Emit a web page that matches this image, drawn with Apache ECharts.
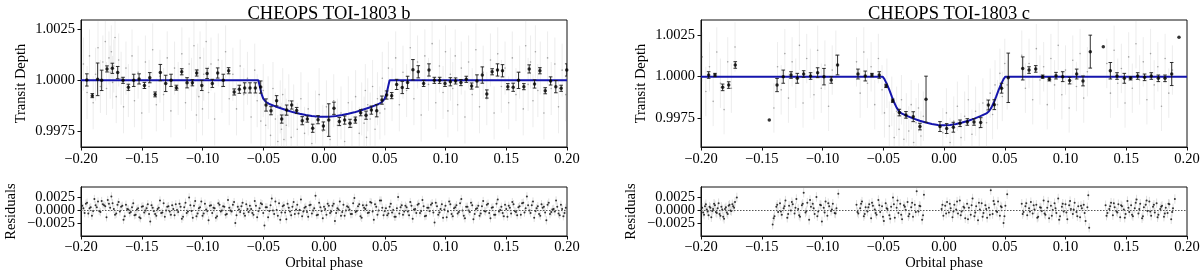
<!DOCTYPE html>
<html><head><meta charset="utf-8">
<script src="https://cdn.jsdelivr.net/npm/echarts@6/dist/echarts.min.js"></script>
<style>html,body{margin:0;padding:0;background:#fff}#c{width:1200px;height:274px}</style>
</head><body><div id="c"></div>
<script>
// ---------- data ----------
const titles = ['CHEOPS TOI-1803 b', 'CHEOPS TOI-1803 c'];
const phaseTicks = [-0.20, -0.15, -0.10, -0.05, 0.00, 0.05, 0.10, 0.15, 0.20];
const depthTicks = [0.9975, 1.0000, 1.0025];
const residTicksOuter = [-0.0025, 0.0025];
const residTicksZero = [0.0000];

// transit model
const modelB = [[-0.200,1.0],[-0.0540,1.0],[-0.0530,0.99975],[-0.0515,0.99935],[-0.0500,0.99910],[-0.0480,0.99895],[-0.045,0.99884],[-0.040,0.99872],[-0.035,0.99862],[-0.030,0.99852],[-0.025,0.99843],[-0.020,0.99836],[-0.015,0.99830],[-0.010,0.99825],[-0.005,0.99822],[0.000,0.99821],[0.005,0.99822],[0.010,0.99825],[0.015,0.99830],[0.020,0.99836],[0.025,0.99843],[0.030,0.99852],[0.035,0.99862],[0.040,0.99872],[0.045,0.99884],[0.0480,0.99895],[0.0500,0.99910],[0.0515,0.99935],[0.0530,0.99975],[0.0540,1.0],[0.200,1.0]];
const modelC = [[-0.200,1.0],[-0.0505,1.0],[-0.049,0.99985],[-0.047,0.99955],[-0.045,0.99920],[-0.043,0.99880],[-0.041,0.99843],[-0.039,0.99812],[-0.037,0.99790],[-0.035,0.99777],[-0.030,0.99760],[-0.025,0.99745],[-0.020,0.99732],[-0.015,0.99722],[-0.010,0.99713],[-0.005,0.99707],[0.000,0.99705],[0.005,0.99707],[0.010,0.99713],[0.015,0.99722],[0.020,0.99732],[0.025,0.99745],[0.030,0.99760],[0.035,0.99777],[0.037,0.99790],[0.039,0.99812],[0.041,0.99843],[0.043,0.99880],[0.045,0.99920],[0.047,0.99955],[0.049,0.99985],[0.0505,1.0],[0.200,1.0]];

// binned points: [phase, flux, error]
const binnedB = [[-0.1952,1.00002,0.0003],[-0.1907,0.99925,0.0001],[-0.1863,1.00005,0.0008],[-0.1830,1.0000,0.0005],[-0.1786,1.00056,0.00015],[-0.1742,1.00059,0.00025],[-0.1698,1.00038,0.0003],[-0.1654,1.0000,0.00015],[-0.1610,0.99966,0.00015],[-0.1566,1.0000,0.0003],[-0.1522,1.00007,0.00025],[-0.1478,0.99975,0.00015],[-0.1434,1.00013,0.00025],[-0.1390,0.99931,0.00012],[-0.1347,1.00038,0.0004],[-0.1303,0.99985,0.0004],[-0.1259,1.0000,0.0003],[-0.1215,0.99964,0.00012],[-0.1171,1.00042,0.00015],[-0.1127,0.99988,0.00025],[-0.1083,0.99988,0.00015],[-0.1048,1.00036,0.00015],[-0.1006,0.99975,0.00025],[-0.0962,1.00034,0.00025],[-0.0919,0.99985,0.0002],[-0.0875,1.00036,0.00025],[-0.0829,1.0000,0.0003],[-0.0785,1.00047,0.00015],[-0.0739,0.99943,0.00015],[-0.0697,0.99956,0.0002],[-0.0653,0.99963,0.00025],[-0.0609,0.99963,0.00025],[-0.0565,0.99963,0.00025],[-0.0521,0.99967,0.0003],[-0.0477,0.99879,0.0003],[-0.0436,0.99851,0.0002],[-0.0390,0.99900,0.00025],[-0.0348,0.99810,0.0002],[-0.0307,0.99854,0.00025],[-0.0266,0.99879,0.0002],[-0.0225,0.99852,0.00015],[-0.0179,0.99802,0.0002],[-0.0137,0.99810,0.00015],[-0.0093,0.99765,0.0002],[-0.0049,0.99807,0.0002],[-0.0005,0.99776,0.0002],[0.0039,0.99805,0.0008],[0.0082,0.99863,0.0003],[0.0126,0.99798,0.0002],[0.0170,0.99805,0.0002],[0.0214,0.99789,0.0002],[0.0258,0.99805,0.00015],[0.0302,0.99841,0.00015],[0.0346,0.99829,0.0002],[0.0390,0.99854,0.0002],[0.0434,0.99851,0.0003],[0.0477,0.99903,0.0002],[0.0516,0.99928,0.0002],[0.0557,0.99925,0.00015],[0.0598,0.99980,0.00025],[0.0644,0.99965,0.0003],[0.0688,0.99990,0.0003],[0.0732,1.00052,0.0005],[0.0776,1.00042,0.0003],[0.0820,0.99985,0.00015],[0.0864,1.00051,0.0003],[0.0908,1.0000,0.00015],[0.0952,1.0000,0.00015],[0.0996,0.99985,0.00015],[0.1040,0.99993,0.0002],[0.1083,0.99997,0.00015],[0.1127,0.99989,0.00015],[0.1171,1.00005,0.00015],[0.1215,0.99972,0.00015],[0.1259,0.99997,0.0003],[0.1303,1.00026,0.0004],[0.1340,0.99933,0.0002],[0.1384,1.00042,0.00015],[0.1428,1.00051,0.0003],[0.1469,1.00047,0.0003],[0.1513,0.99969,0.00015],[0.1557,0.99966,0.0002],[0.1601,1.0000,0.0004],[0.1645,0.99969,0.00015],[0.1689,1.00056,0.0002],[0.1733,0.99982,0.0002],[0.1777,1.00047,0.00015],[0.1821,0.99949,0.00015],[0.1865,0.99997,0.0002],[0.1908,0.99969,0.0003],[0.1952,0.99961,0.00015],[0.1998,1.00051,0.0003]];
const binnedC = [[-0.1937,1.0001,0.0002],[-0.1885,1.0001,0.0001],[-0.1822,0.99935,0.0002],[-0.1772,0.99949,0.0002],[-0.1718,1.00071,0.0002],[-0.1438,0.99737,0.0],[-0.1374,0.99949,0.0004],[-0.1323,1.0,0.0004],[-0.1259,1.0001,0.0002],[-0.1207,0.9999,0.0003],[-0.1155,1.00016,0.0002],[-0.1098,1.00004,0.0002],[-0.1040,1.00024,0.0003],[-0.0988,1.0,0.0005],[-0.0928,0.9998,0.0002],[-0.0876,1.00071,0.0006],[-0.0708,1.00016,0.0003],[-0.0648,1.00004,0.0003],[-0.0593,1.0001,0.0001],[-0.0533,1.0001,0.0002],[-0.0477,0.99944,0.0001],[-0.0422,0.99854,0.0001],[-0.0368,0.99782,0.0002],[-0.0313,0.99768,0.0002],[-0.0253,0.99757,0.0003],[-0.0198,0.99697,0.0002],[-0.0148,0.99863,0.0014],[-0.0033,0.99697,0.0003],[0.0022,0.99685,0.0003],[0.0077,0.99693,0.0003],[0.0132,0.99717,0.0002],[0.0192,0.99725,0.0002],[0.0247,0.99725,0.0002],[0.0302,0.99721,0.0003],[0.0365,0.99828,0.0003],[0.0414,0.99830,0.0003],[0.0474,0.99930,0.0003],[0.0529,0.99993,0.0015],[0.0648,1.0005,0.0007],[0.0700,1.0004,0.0002],[0.0755,1.00047,0.0002],[0.0812,1.0,0.0001],[0.0867,0.99984,0.0001],[0.0922,1.00006,0.0002],[0.0977,1.0,0.0003],[0.1034,0.99976,0.0002],[0.1092,1.00016,0.0003],[0.1144,0.99974,0.0003],[0.1204,1.00152,0.001],[0.1311,1.00182,0.0],[0.1369,1.00036,0.0005],[0.1424,1.00004,0.0002],[0.1484,0.9999,0.0003],[0.1536,0.9999,0.0001],[0.1594,1.00004,0.0002],[0.1651,0.99996,0.0002],[0.1706,1.00004,0.0002],[0.1764,0.9999,0.0002],[0.1819,0.9999,0.0002],[0.1874,1.00016,0.0007],[0.1934,1.00239,0.0]];

// unbinned CHEOPS points [phase, flux] and their typical error
const rawErrB = 0.0013;
const rawB = [[-0.198,1.0008],[-0.195,0.9994],[-0.193,1.0012],[-0.190,0.9989],[-0.188,1.0003],[-0.186,1.0016],[-0.184,0.9997],[-0.182,1.0009],[-0.180,1.0019],[-0.179,0.9996],[-0.177,1.0011],[-0.176,1.0004],[-0.175,1.0014],[-0.174,0.9999],[-0.173,1.0007],[-0.172,1.0021],[-0.171,0.9992],[-0.169,1.0010],[-0.167,1.0001],[-0.165,0.9987],[-0.163,1.0006],[-0.161,0.9995],[-0.158,1.0012],[-0.156,0.9990],[-0.153,1.0004],[-0.150,0.9984],[-0.147,1.0009],[-0.144,0.9997],[-0.141,1.0015],[-0.138,0.9988],[-0.135,1.0002],[-0.132,0.9993],[-0.129,1.0011],[-0.126,0.9985],[-0.123,1.0006],[-0.120,0.9996],[-0.117,1.0013],[-0.114,0.9989],[-0.111,1.0008],[-0.109,0.9998],[-0.107,1.0017],[-0.105,0.9983],[-0.104,1.0005],[-0.103,0.9992],[-0.102,1.0011],[-0.100,0.9986],[-0.099,1.0003],[-0.097,1.0019],[-0.095,0.9994],[-0.093,1.0008],[-0.090,0.9981],[-0.087,1.0010],[-0.084,0.9997],[-0.081,1.0014],[-0.078,0.9991],[-0.075,1.0003],[-0.072,0.9986],[-0.069,1.0007],[-0.066,0.9993],[-0.063,1.0001],[-0.060,0.9982],[-0.057,1.0005],[-0.055,0.9990],[-0.052,0.9980],[-0.050,0.9995],[-0.048,0.9978],[-0.046,0.9989],[-0.044,0.9973],[-0.042,0.9996],[-0.040,0.9981],[-0.038,0.9970],[-0.036,0.9987],[-0.035,0.9976],[-0.034,0.9993],[-0.033,0.9971],[-0.032,0.9983],[-0.031,0.9978],[-0.029,0.9990],[-0.027,0.9972],[-0.025,0.9985],[-0.022,0.9976],[-0.019,0.9991],[-0.016,0.9974],[-0.013,0.9986],[-0.010,0.9969],[-0.007,0.9982],[-0.004,0.9993],[-0.001,0.9975],[0.002,0.9987],[0.005,0.9971],[0.008,0.9990],[0.011,0.9978],[0.014,0.9984],[0.017,0.9970],[0.020,0.9989],[0.023,0.9977],[0.026,0.9992],[0.029,0.9974],[0.031,0.9986],[0.033,0.9979],[0.034,0.9995],[0.035,0.9972],[0.036,0.9988],[0.038,0.9981],[0.040,0.9997],[0.042,0.9976],[0.044,0.9991],[0.046,0.9984],[0.048,1.0001],[0.050,0.9986],[0.053,1.0006],[0.056,0.9993],[0.059,1.0011],[0.062,0.9988],[0.065,1.0004],[0.068,0.9995],[0.071,1.0016],[0.074,0.9991],[0.077,1.0009],[0.080,0.9983],[0.083,1.0012],[0.086,0.9998],[0.089,1.0018],[0.092,0.9989],[0.095,1.0007],[0.098,0.9994],[0.100,1.0014],[0.102,0.9985],[0.104,1.0003],[0.106,0.9996],[0.108,1.0012],[0.110,0.9988],[0.113,1.0006],[0.116,0.9982],[0.119,1.0009],[0.122,0.9993],[0.125,1.0015],[0.128,0.9987],[0.131,1.0004],[0.134,0.9991],[0.137,1.0010],[0.140,0.9984],[0.143,1.0013],[0.146,0.9997],[0.149,1.0006],[0.152,0.9989],[0.155,1.0011],[0.158,0.9993],[0.161,1.0004],[0.164,0.9986],[0.166,1.0017],[0.168,0.9998],[0.170,1.0009],[0.172,0.9990],[0.174,1.0014],[0.176,0.9995],[0.178,1.0006],[0.181,0.9984],[0.184,1.0011],[0.187,0.9996],[0.190,1.0008],[0.193,0.9987],[0.196,1.0005],[0.199,0.9993]];
const rawErrC = 0.0015;
const rawC = [[-0.199,1.0012],[-0.196,0.9991],[-0.193,1.0006],[-0.190,0.9985],[-0.187,1.0015],[-0.184,0.9996],[-0.181,0.9980],[-0.178,1.0009],[-0.175,0.9993],[-0.172,1.0018],[-0.140,0.9981],[-0.137,1.0006],[-0.134,0.9992],[-0.131,1.0014],[-0.128,0.9987],[-0.125,1.0009],[-0.122,0.9996],[-0.119,1.0019],[-0.116,0.9984],[-0.113,1.0011],[-0.110,1.0002],[-0.107,0.9989],[-0.104,1.0016],[-0.101,0.9993],[-0.098,1.0007],[-0.095,0.9982],[-0.092,1.0004],[-0.089,1.0013],[-0.072,1.0009],[-0.069,0.9990],[-0.066,1.0015],[-0.063,0.9996],[-0.060,1.0006],[-0.057,0.9983],[-0.054,1.0011],[-0.051,0.9992],[-0.049,0.9978],[-0.047,0.9996],[-0.045,0.9970],[-0.043,0.9985],[-0.041,0.9963],[-0.039,0.9979],[-0.037,0.9968],[-0.035,0.9986],[-0.033,0.9962],[-0.031,0.9975],[-0.029,0.9967],[-0.027,0.9983],[-0.025,0.9960],[-0.023,0.9972],[-0.021,0.9981],[-0.019,0.9964],[-0.017,0.9976],[-0.001,0.9966],[0.002,0.9978],[0.005,0.9960],[0.008,0.9973],[0.011,0.9982],[0.014,0.9963],[0.017,0.9976],[0.020,0.9986],[0.023,0.9965],[0.026,0.9979],[0.029,0.9969],[0.032,0.9984],[0.035,0.9972],[0.038,0.9990],[0.040,0.9977],[0.042,0.9995],[0.044,0.9983],[0.046,1.0002],[0.048,0.9988],[0.050,1.0008],[0.052,0.9995],[0.064,1.0013],[0.067,0.9993],[0.070,1.0008],[0.073,0.9986],[0.076,1.0017],[0.079,0.9998],[0.082,1.0006],[0.085,0.9983],[0.088,1.0011],[0.091,0.9995],[0.094,1.0019],[0.097,0.9989],[0.100,1.0004],[0.103,0.9981],[0.106,1.0010],[0.109,0.9994],[0.112,1.0014],[0.115,0.9987],[0.118,1.0003],[0.134,1.0008],[0.137,0.9990],[0.140,1.0016],[0.143,0.9996],[0.146,1.0005],[0.149,0.9984],[0.152,1.0012],[0.155,0.9993],[0.158,1.0020],[0.161,0.9998],[0.164,1.0009],[0.167,0.9986],[0.170,1.0014],[0.173,0.9995],[0.176,1.0006],[0.179,0.9982],[0.182,1.0011],[0.185,0.9990],[0.188,1.0004]];

// residuals [phase, residual] and their typical error
const residErrB = 0.0008;
const residB = [[-0.199,0.0008],[-0.197,-0.0006],[-0.195,0.0014],[-0.193,0.0003],[-0.191,-0.0011],[-0.189,0.0021],[-0.187,0.0005],[-0.185,-0.0002],[-0.183,0.0017],[-0.181,0.0009],[-0.179,-0.0014],[-0.177,0.0012],[-0.175,0.0026],[-0.173,0.0002],[-0.171,-0.0007],[-0.169,0.0015],[-0.167,0.0006],[-0.165,-0.0019],[-0.163,0.0010],[-0.161,0.0001],[-0.159,-0.0004],[-0.157,0.0013],[-0.155,-0.0009],[-0.153,0.0003],[-0.151,-0.0016],[-0.149,0.0007],[-0.147,-0.0001],[-0.145,0.0011],[-0.143,-0.0022],[-0.141,0.0004],[-0.139,-0.0008],[-0.137,0.0002],[-0.135,0.0018],[-0.133,-0.0005],[-0.131,-0.0013],[-0.129,0.0006],[-0.127,-0.0003],[-0.125,0.0009],[-0.123,-0.0010],[-0.121,0.0000],[-0.119,0.0012],[-0.117,-0.0017],[-0.115,0.0005],[-0.113,-0.0006],[-0.111,0.0024],[-0.109,-0.0002],[-0.107,0.0008],[-0.105,-0.0012],[-0.103,0.0003],[-0.101,0.0016],[-0.099,-0.0007],[-0.097,0.0001],[-0.095,-0.0020],[-0.093,0.0009],[-0.091,0.0004],[-0.089,-0.0015],[-0.087,0.0013],[-0.085,-0.0003],[-0.083,0.0007],[-0.081,-0.0009],[-0.079,0.0019],[-0.077,-0.0001],[-0.075,0.0010],[-0.073,-0.0025],[-0.071,0.0006],[-0.069,-0.0004],[-0.067,0.0014],[-0.065,-0.0011],[-0.063,0.0002],[-0.061,0.0008],[-0.059,-0.0006],[-0.057,0.0017],[-0.055,-0.0014],[-0.053,0.0003],[-0.051,0.0011],[-0.049,-0.0030],[-0.047,0.0005],[-0.045,-0.0002],[-0.043,0.0022],[-0.041,-0.0008],[-0.039,0.0000],[-0.037,0.0013],[-0.035,-0.0005],[-0.033,0.0009],[-0.031,-0.0018],[-0.029,0.0004],[-0.027,-0.0010],[-0.025,0.0015],[-0.023,0.0001],[-0.021,-0.0007],[-0.019,0.0020],[-0.017,-0.0003],[-0.015,0.0006],[-0.013,-0.0013],[-0.011,0.0010],[-0.009,-0.0001],[-0.007,0.0027],[-0.005,-0.0009],[-0.003,0.0005],[-0.001,-0.0016],[0.001,0.0002],[0.003,0.0012],[0.005,-0.0006],[0.007,0.0008],[0.009,-0.0021],[0.011,0.0003],[0.013,0.0016],[0.015,-0.0004],[0.017,-0.0011],[0.019,0.0007],[0.021,0.0001],[0.023,-0.0008],[0.025,0.0023],[0.027,-0.0002],[0.029,0.0011],[0.031,-0.0015],[0.033,0.0004],[0.035,0.0009],[0.037,-0.0005],[0.039,0.0014],[0.041,-0.0019],[0.043,0.0006],[0.045,-0.0001],[0.047,0.0018],[0.049,-0.0010],[0.051,0.0003],[0.053,-0.0007],[0.055,0.0012],[0.057,0.0000],[0.059,-0.0013],[0.061,0.0025],[0.063,0.0005],[0.065,-0.0009],[0.067,0.0008],[0.069,-0.0003],[0.071,0.0015],[0.073,-0.0017],[0.075,0.0002],[0.077,0.0010],[0.079,-0.0006],[0.081,0.0019],[0.083,-0.0012],[0.085,0.0004],[0.087,-0.0002],[0.089,0.0013],[0.091,-0.0024],[0.093,0.0007],[0.095,-0.0005],[0.097,0.0011],[0.099,0.0001],[0.101,-0.0014],[0.103,0.0016],[0.105,-0.0008],[0.107,0.0003],[0.109,0.0009],[0.111,-0.0004],[0.113,0.0021],[0.115,-0.0011],[0.117,0.0006],[0.119,-0.0001],[0.121,0.0014],[0.123,-0.0018],[0.125,0.0002],[0.127,0.0008],[0.129,-0.0007],[0.131,0.0017],[0.133,-0.0003],[0.135,0.0012],[0.137,-0.0016],[0.139,0.0005],[0.141,-0.0009],[0.143,0.0020],[0.145,0.0000],[0.147,-0.0006],[0.149,0.0010],[0.151,-0.0013],[0.153,0.0004],[0.155,0.0015],[0.157,-0.0002],[0.159,-0.0010],[0.161,0.0007],[0.163,0.0013],[0.165,-0.0005],[0.167,0.0026],[0.169,-0.0001],[0.171,0.0009],[0.173,-0.0015],[0.175,0.0003],[0.177,-0.0008],[0.179,0.0011],[0.181,0.0006],[0.183,-0.0020],[0.185,0.0014],[0.187,-0.0004],[0.189,0.0002],[0.191,0.0018],[0.193,-0.0007],[0.195,0.0010],[0.197,-0.0012],[0.199,0.0004],
[-0.198,0.0003],[-0.196,0.0012],[-0.194,-0.0007],[-0.192,0.0005],[-0.190,-0.0002],[-0.188,0.0009],[-0.186,0.0016],[-0.184,-0.0004],[-0.182,0.0011],[-0.180,0.0007],[-0.178,0.0019],[-0.176,0.0004],[-0.174,0.0013],[-0.172,-0.0009],[-0.170,0.0010],[-0.168,-0.0003],[-0.166,0.0008],[-0.164,-0.0012],[-0.162,0.0002],[-0.160,-0.0006],[-0.158,0.0005],[-0.156,-0.0010],[-0.154,0.0001],[-0.152,-0.0014],[-0.150,0.0006],[-0.148,-0.0005],[-0.146,0.0003],[-0.144,-0.0008],[-0.142,0.0009],[-0.140,-0.0002],[-0.138,-0.0011],[-0.136,0.0004],[-0.134,-0.0006],[-0.132,0.0013],[-0.130,-0.0001],[-0.128,0.0007],[-0.126,-0.0009],[-0.124,0.0002],[-0.122,0.0011],[-0.120,-0.0004],[-0.118,0.0006],[-0.116,-0.0013],[-0.114,0.0014],[-0.112,-0.0003],[-0.110,0.0009],[-0.108,-0.0015],[-0.106,0.0017],[-0.104,-0.0007],[-0.102,0.0005],[-0.100,-0.0011],[-0.098,0.0012],[-0.096,-0.0002],[-0.094,0.0008],[-0.092,-0.0006],[-0.090,0.0003],[-0.088,-0.0012],[-0.086,0.0010],[-0.084,-0.0001],[-0.082,0.0006],[-0.080,-0.0008],[-0.078,0.0004],[-0.076,-0.0003],[-0.074,0.0015],[-0.072,-0.0010],[-0.070,0.0001],[-0.068,0.0007],[-0.066,-0.0007],[-0.064,0.0011],[-0.062,-0.0004],[-0.060,0.0002],[-0.058,-0.0009],[-0.056,0.0008],[-0.054,-0.0002],[-0.052,0.0013],[-0.050,-0.0006],[-0.048,0.0005],[-0.046,-0.0014],[-0.044,0.0009],[-0.042,-0.0001],[-0.040,0.0016],[-0.038,-0.0011],[-0.036,-0.0019],[-0.034,0.0007],[-0.032,-0.0005],[-0.030,0.0012],[-0.028,-0.0003],[-0.026,0.0006],[-0.024,-0.0008],[-0.022,0.0010],[-0.020,0.0000],[-0.018,-0.0012],[-0.016,0.0004],[-0.014,-0.0004],[-0.012,0.0009],[-0.010,-0.0007],[-0.008,0.0003],[-0.006,-0.0010],[-0.004,0.0014],[-0.002,-0.0002],[0.000,0.0006],[0.002,-0.0009],[0.004,0.0008],[0.006,-0.0003],[0.008,0.0012],[0.010,-0.0006],[0.012,0.0001],[0.014,-0.0011],[0.016,0.0010],[0.018,-0.0001],[0.020,0.0005],[0.022,-0.0008],[0.024,0.0013],[0.026,-0.0004],[0.028,0.0007],[0.030,-0.0012],[0.032,0.0009],[0.034,0.0002],[0.036,-0.0006],[0.038,0.0015],[0.040,-0.0003],[0.042,0.0011],[0.044,-0.0009],[0.046,0.0018],[0.048,0.0004],[0.050,-0.0002],[0.052,-0.0010],[0.054,0.0006],[0.056,-0.0005],[0.058,-0.0013],[0.060,0.0003],[0.062,-0.0007],[0.064,0.0009],[0.066,-0.0003],[0.068,0.0005],[0.070,-0.0010],[0.072,0.0008],[0.074,0.0001],[0.076,-0.0006],[0.078,0.0012],[0.080,-0.0002],[0.082,0.0007],[0.084,-0.0011],[0.086,0.0004],[0.088,0.0010],[0.090,-0.0005],[0.092,0.0014],[0.094,-0.0009],[0.096,0.0002],[0.098,-0.0015],[0.100,0.0008],[0.102,-0.0003],[0.104,0.0011],[0.106,-0.0012],[0.108,0.0005],[0.110,-0.0007],[0.112,0.0013],[0.114,-0.0001],[0.116,-0.0016],[0.118,0.0006],[0.120,-0.0004],[0.122,0.0009],[0.124,-0.0008],[0.126,0.0003],[0.128,-0.0011],[0.130,0.0007],[0.132,-0.0002],[0.134,0.0010],[0.136,-0.0006],[0.138,0.0004],[0.140,-0.0009],[0.142,0.0012],[0.144,-0.0003],[0.146,0.0006],[0.148,-0.0012],[0.150,0.0002],[0.152,0.0008],[0.154,-0.0007],[0.156,0.0011],[0.158,-0.0004],[0.160,0.0005],[0.162,-0.0009],[0.164,0.0014],[0.166,0.0003],[0.168,0.0009],[0.170,-0.0006],[0.172,0.0016],[0.174,-0.0002],[0.176,0.0007],[0.178,-0.0011],[0.180,0.0004],[0.182,-0.0005],[0.184,0.0010],[0.186,-0.0008],[0.188,0.0001],[0.190,-0.0003],[0.192,0.0006],[0.194,-0.0010],[0.196,0.0002],[0.198,-0.0006]];
const residErrC = 0.0009;
const residC = [[-0.199,0.0004],[-0.1975,-0.0009],[-0.196,0.0011],[-0.1945,-0.0003],[-0.193,0.0006],[-0.1915,-0.0014],[-0.190,0.0002],[-0.1885,0.0009],[-0.187,-0.0006],[-0.1855,0.0013],[-0.184,-0.0011],[-0.1825,0.0001],[-0.181,-0.0017],[-0.1795,0.0005],[-0.178,-0.0008],[-0.1765,0.0010],[-0.175,-0.0002],[-0.1735,0.0007],[-0.172,0.0015],[-0.1705,0.0024],[-0.141,-0.0028],[-0.1395,-0.0012],[-0.138,0.0006],[-0.1365,-0.0004],[-0.135,0.0013],[-0.1335,-0.0009],[-0.132,0.0003],[-0.1305,0.0018],[-0.129,-0.0015],[-0.1275,0.0008],[-0.126,-0.0001],[-0.1245,0.0011],[-0.123,-0.0007],[-0.1215,0.0021],[-0.120,0.0002],[-0.1185,-0.0013],[-0.117,0.0009],[-0.1155,0.0033],[-0.114,-0.0005],[-0.1125,0.0014],[-0.111,-0.0019],[-0.1095,0.0006],[-0.108,0.0012],[-0.1065,-0.0008],[-0.105,0.0025],[-0.1035,-0.0003],[-0.102,0.0010],[-0.1005,-0.0022],[-0.099,0.0004],[-0.0975,0.0016],[-0.096,-0.0011],[-0.0945,0.0007],[-0.093,-0.0002],[-0.0915,0.0012],[-0.090,-0.0006],[-0.0885,0.0003],[-0.087,0.0031],[-0.072,0.0010],[-0.0705,-0.0007],[-0.069,0.0003],[-0.0675,0.0016],[-0.066,-0.0012],[-0.0645,0.0005],[-0.063,-0.0003],[-0.0615,0.0011],[-0.060,-0.0016],[-0.0585,0.0008],[-0.057,0.0001],[-0.0555,-0.0009],[-0.054,0.0019],[-0.0525,-0.0004],[-0.051,0.0007],[-0.0495,-0.0021],[-0.048,0.0013],[-0.0465,0.0002],[-0.045,-0.0010],[-0.0435,0.0006],[-0.042,0.0024],[-0.0405,-0.0015],[-0.039,0.0004],[-0.0375,-0.0006],[-0.036,0.0012],[-0.0345,-0.0018],[-0.033,0.0009],[-0.0315,0.0000],[-0.030,0.0015],[-0.0285,-0.0008],[-0.027,0.0005],[-0.0255,-0.0013],[-0.024,0.0010],[-0.0225,0.0036],[-0.021,-0.0003],[-0.0195,0.0007],[-0.018,-0.0019],[-0.0165,0.0029],[-0.002,0.0002],[-0.0005,-0.0011],[0.001,0.0008],[0.0025,0.0015],[0.004,-0.0005],[0.0055,0.0003],[0.007,-0.0014],[0.0085,0.0010],[0.010,0.0001],[0.0115,-0.0007],[0.013,0.0018],[0.0145,-0.0003],[0.016,0.0006],[0.0175,-0.0016],[0.019,0.0012],[0.0205,0.0004],[0.022,-0.0009],[0.0235,0.0022],[0.025,-0.0012],[0.0265,0.0007],[0.028,-0.0020],[0.0295,0.0001],[0.031,0.0013],[0.0325,-0.0006],[0.034,0.0009],[0.0355,-0.0015],[0.037,0.0004],[0.0385,0.0038],[0.040,-0.0008],[0.0415,0.0011],[0.043,-0.0002],[0.0445,0.0016],[0.046,-0.0011],[0.0475,0.0005],[0.049,-0.0025],[0.0505,0.0008],[0.052,0.0030],[0.064,0.0012],[0.0655,-0.0004],[0.067,0.0007],[0.0685,-0.0010],[0.070,0.0003],[0.0715,0.0015],[0.073,-0.0007],[0.0745,0.0001],[0.076,0.0010],[0.0775,-0.0013],[0.079,0.0005],[0.0805,-0.0002],[0.082,0.0018],[0.0835,-0.0009],[0.085,0.0004],[0.0865,-0.0016],[0.088,0.0008],[0.0895,0.0000],[0.091,0.0013],[0.0925,-0.0006],[0.094,0.0022],[0.0955,-0.0012],[0.097,0.0006],[0.0985,-0.0003],[0.100,0.0011],[0.1015,-0.0018],[0.103,0.0009],[0.1045,0.0002],[0.106,-0.0008],[0.1075,0.0014],[0.109,-0.0004],[0.1105,0.0007],[0.112,-0.0014],[0.1135,0.0003],[0.115,0.0010],[0.1165,-0.0021],[0.118,0.0005],[0.1195,-0.0034],[0.133,0.0009],[0.1345,-0.0006],[0.136,0.0002],[0.1375,0.0014],[0.139,-0.0010],[0.1405,0.0005],[0.142,-0.0003],[0.1435,0.0011],[0.145,-0.0014],[0.1465,0.0007],[0.148,0.0001],[0.1495,-0.0008],[0.151,0.0017],[0.1525,-0.0004],[0.154,0.0009],[0.1555,-0.0012],[0.157,0.0003],[0.1585,0.0020],[0.160,-0.0007],[0.1615,0.0012],[0.163,-0.0016],[0.1645,0.0005],[0.166,0.0010],[0.1675,-0.0002],[0.169,0.0016],[0.1705,-0.0011],[0.172,0.0006],[0.1735,-0.0005],[0.175,0.0013],[0.1765,-0.0009],[0.178,0.0002],[0.1795,0.0008],[0.181,-0.0013],[0.1825,0.0004],[0.184,-0.0006],[0.1855,0.0011],[0.187,-0.0018],[0.1885,0.0003],[0.190,0.0021],
[-0.19825,-0.0005],[-0.19675,0.0007],[-0.19525,0.0001],[-0.19375,-0.0010],[-0.19225,0.0004],[-0.19075,-0.0002],[-0.18925,0.0012],[-0.18775,-0.0004],[-0.18625,0.0003],[-0.18475,-0.0008],[-0.18325,0.0006],[-0.18175,-0.0013],[-0.18025,0.0002],[-0.17875,-0.0005],[-0.17725,0.0008],[-0.17575,-0.0001],[-0.17425,0.0011],[-0.17275,0.0004],[-0.14025,-0.0016],[-0.13725,0.0010],[-0.13425,-0.0003],[-0.13125,0.0007],[-0.12825,-0.0008],[-0.12525,0.0015],[-0.12225,0.0004],[-0.11925,-0.0010],[-0.11625,0.0012],[-0.11325,-0.0002],[-0.11025,0.0019],[-0.10725,0.0003],[-0.10425,-0.0012],[-0.10125,0.0009],[-0.09825,-0.0005],[-0.09525,0.0013],[-0.09225,0.0001],[-0.08925,-0.0007],[-0.07125,-0.0004],[-0.06825,0.0012],[-0.06525,-0.0008],[-0.06225,0.0005],[-0.05925,0.0014],[-0.05625,-0.0006],[-0.05325,0.0009],[-0.05025,-0.0013],[-0.04725,0.0003],[-0.04425,-0.0017],[-0.04125,0.0011],[-0.03825,0.0018],[-0.03525,-0.0009],[-0.03225,0.0006],[-0.02925,-0.0012],[-0.02625,0.0014],[-0.02325,-0.0004],[-0.02025,0.0008],[-0.01725,-0.0010],[-0.00125,0.0010],[0.00175,-0.0007],[0.00475,0.0012],[0.00775,-0.0003],[0.01075,0.0016],[0.01375,-0.0010],[0.01675,0.0004],[0.01975,-0.0018],[0.02275,0.0009],[0.02575,-0.0005],[0.02875,0.0014],[0.03175,-0.0013],[0.03475,0.0002],[0.03775,-0.0009],[0.04075,0.0017],[0.04375,-0.0004],[0.04675,0.0007],[0.04975,-0.0012],[0.06475,-0.0008],[0.06775,0.0013],[0.07075,-0.0003],[0.07375,0.0009],[0.07675,-0.0015],[0.07975,0.0004],[0.08275,-0.0007],[0.08575,0.0016],[0.08875,-0.0011],[0.09175,0.0003],[0.09475,-0.0019],[0.09775,0.0012],[0.10075,-0.0005],[0.10375,0.0017],[0.10675,0.0001],[0.10975,-0.0012],[0.11275,0.0008],[0.11575,-0.0006],[0.11875,0.0028],[0.13375,-0.0011],[0.13675,0.0007],[0.13975,0.0013],[0.14275,-0.0005],[0.14575,0.0009],[0.14875,-0.0015],[0.15175,0.0004],[0.15475,-0.0009],[0.15775,0.0014],[0.16075,0.0002],[0.16375,-0.0012],[0.16675,0.0018],[0.16975,-0.0003],[0.17275,0.0010],[0.17575,-0.0014],[0.17875,0.0006],[0.18175,-0.0007],[0.18475,0.0012],[0.18775,-0.0004]];

// ---------- chart ----------
const FONT = '"Liberation Serif","DejaVu Serif",serif';
const TXT = {fontFamily: FONT, fontSize: 14.5, color: '#000'};
const MODEL_COLOR = '#1515ad';

function fmtTick(d) {
  return function (v) {
    const s = Math.abs(v).toFixed(d);
    return (v < -1e-12 ? '\u2212' : '') + s;
  };
}

function errBars(errFn, color, width, opacity, cap) {
  return function (params, api) {
    const x = api.value(0), y = api.value(1), e = errFn(api);
    const children = [];
    if (e > 0) {
      const p1 = api.coord([x, y + e]), p2 = api.coord([x, y - e]);
      const st = {stroke: color, lineWidth: width, opacity: opacity};
      children.push({type: 'line', shape: {x1: p1[0], y1: p1[1], x2: p2[0], y2: p2[1]}, style: st});
      if (cap) {
        children.push({type: 'line', shape: {x1: p1[0] - cap, y1: p1[1], x2: p1[0] + cap, y2: p1[1]}, style: st});
        children.push({type: 'line', shape: {x1: p2[0] - cap, y1: p2[1], x2: p2[0] + cap, y2: p2[1]}, style: st});
      }
    }
    return {type: 'group', children: children};
  };
}

const gridBox = {show: true, borderColor: '#111', borderWidth: 1, backgroundColor: 'transparent',
  containLabel: false, outerBoundsMode: 'none'};
const grids = [
  Object.assign({left: 81, top: 20, width: 486, height: 127}, gridBox),
  Object.assign({left: 81, top: 187, width: 486, height: 49}, gridBox),
  Object.assign({left: 701, top: 20, width: 486, height: 127}, gridBox),
  Object.assign({left: 701, top: 187, width: 486, height: 49}, gridBox)
];

function xAx(i, named, margin) {
  return {
    type: 'value', gridIndex: i, min: -0.2, max: 0.2,
    axisLine: {show: true, onZero: false, lineStyle: {color: '#111', width: 1}},
    axisTick: {show: true, inside: false, length: 3.5, customValues: phaseTicks, lineStyle: {color: '#111'}},
    axisLabel: Object.assign({margin: margin, hideOverlap: false, customValues: phaseTicks, formatter: fmtTick(2)}, TXT),
    splitLine: {show: false},
    name: named ? 'Orbital phase' : '', nameLocation: 'middle', nameGap: 16,
    nameTextStyle: TXT
  };
}
function yAx(i, min, max, ticks, name, gap) {
  return {
    type: 'value', gridIndex: i, min: min, max: max, position: 'left', offset: 0,
    axisLine: {show: true, onZero: false, lineStyle: {color: '#111', width: 1}},
    axisTick: {show: true, inside: false, length: 3.5, customValues: ticks, lineStyle: {color: '#111'}},
    axisLabel: Object.assign({margin: 6, hideOverlap: false, showMinLabel: true, showMaxLabel: true,
      customValues: ticks, formatter: fmtTick(4)}, TXT),
    splitLine: {show: false},
    name: name, nameLocation: 'middle', nameGap: gap, nameRotate: 90,
    nameTextStyle: TXT
  };
}

function panelSeries(axis, raw, rawErr, binned, model) {
  return [
    {type: 'custom', xAxisIndex: axis, yAxisIndex: axis, clip: true, silent: true, z: 1,
     renderItem: errBars(function () { return rawErr; }, '#a0a0a0', 0.7, 0.28, 0), data: raw},
    {type: 'scatter', xAxisIndex: axis, yAxisIndex: axis, clip: true, silent: true, z: 2,
     symbolSize: 1.6, itemStyle: {color: '#444', opacity: 0.45}, data: raw},
    {type: 'line', xAxisIndex: axis, yAxisIndex: axis, clip: true, silent: true, z: 3,
     showSymbol: false, symbol: 'none', lineStyle: {color: MODEL_COLOR, width: 2}, data: model},
    {type: 'custom', xAxisIndex: axis, yAxisIndex: axis, clip: true, silent: true, z: 4,
     renderItem: errBars(function (api) { return api.value(2); }, '#1a1a1a', 0.9, 1, 1.8),
     encode: {x: 0, y: 1}, data: binned},
    {type: 'scatter', xAxisIndex: axis, yAxisIndex: axis, clip: true, silent: true, z: 5,
     symbolSize: 3.5, itemStyle: {color: '#000'}, encode: {x: 0, y: 1}, data: binned}
  ];
}
function residSeries(axis, resid, err) {
  return [
    {type: 'custom', xAxisIndex: axis, yAxisIndex: axis, clip: true, silent: true, z: 1,
     renderItem: errBars(function () { return err; }, '#8a8a8a', 0.7, 0.4, 0), data: resid},
    {type: 'scatter', xAxisIndex: axis, yAxisIndex: axis, clip: true, silent: true, z: 3,
     symbolSize: 2, itemStyle: {color: '#111', opacity: 0.85}, data: resid,
     markLine: {silent: true, symbol: 'none', label: {show: false},
       lineStyle: {color: '#555', type: [1.5, 1.5], width: 1}, data: [{yAxis: 0}]}}
  ];
}

const RMIN = -0.0050, RMAX = 0.0044;
const chart = echarts.init(document.getElementById('c'), null, {renderer: 'canvas'});
chart.setOption({
  animation: false,
  backgroundColor: '#fff',
  title: [
    {text: titles[0], left: 324, top: 0, textAlign: 'center',
     textStyle: {fontFamily: FONT, fontSize: 18.5, fontWeight: 'normal', color: '#000'}},
    {text: titles[1], left: 944, top: 0, textAlign: 'center',
     textStyle: {fontFamily: FONT, fontSize: 18.5, fontWeight: 'normal', color: '#000'}}
  ],
  grid: grids,
  xAxis: [xAx(0, false, 5), xAx(1, true, 4), xAx(2, false, 5), xAx(3, true, 4)],
  yAxis: [
    yAx(0, 0.99673, 1.00296, depthTicks, 'Transit Depth', 52),
    yAx(1, RMIN, RMAX, residTicksOuter, 'Residuals', 62),
    yAx(2, 0.99573, 1.00344, depthTicks, 'Transit Depth', 52),
    yAx(3, RMIN, RMAX, residTicksOuter, 'Residuals', 62),
    yAx(1, RMIN, RMAX, residTicksZero, '', 0),
    yAx(3, RMIN, RMAX, residTicksZero, '', 0)
  ],
  series: [].concat(
    panelSeries(0, rawB, rawErrB, binnedB, modelB),
    residSeries(1, residB, residErrB),
    panelSeries(2, rawC, rawErrC, binnedC, modelC),
    residSeries(3, residC, residErrC)
  )
});
</script>
</body></html>
